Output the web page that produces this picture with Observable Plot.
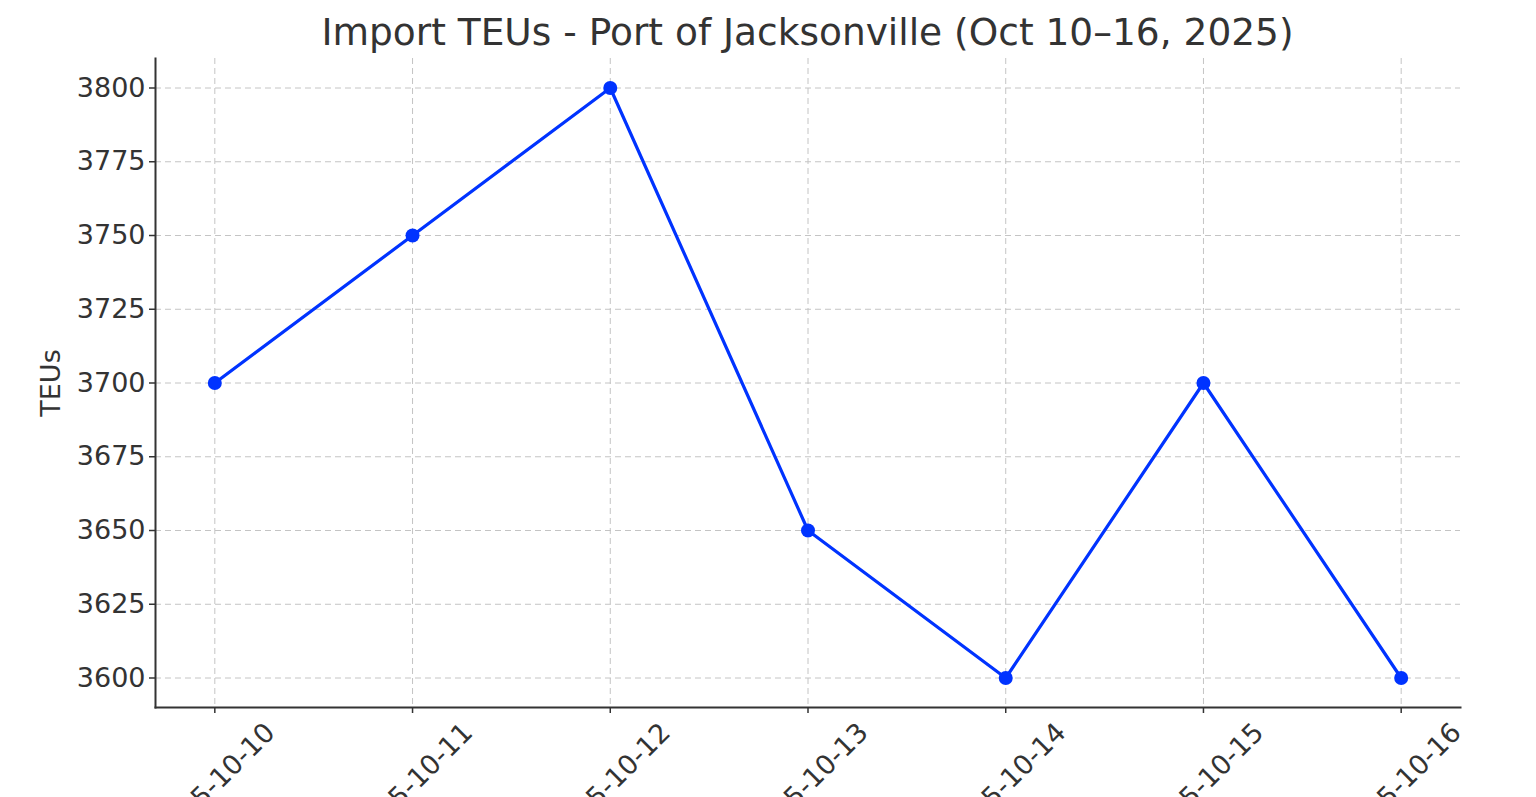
<!DOCTYPE html>
<html><head><meta charset="utf-8">
<script src="https://cdn.jsdelivr.net/npm/d3@7"></script>
<script src="https://cdn.jsdelivr.net/npm/@observablehq/plot@0.6"></script>
<style>
body{margin:0;background:#fff;overflow:hidden;font-family:"DejaVu Sans",sans-serif;}
#title{box-sizing:border-box;height:50px;padding-left:155px;width:1460px;text-align:center;font-size:37.5px;color:#333;line-height:64px;white-space:nowrap;}
</style></head><body>
<div id="title">Import TEUs - Port of Jacksonville (Oct 10–16, 2025)</div>
<div id="chart"></div>
<script>
const dates = ["2025-10-10","2025-10-11","2025-10-12","2025-10-13","2025-10-14","2025-10-15","2025-10-16"];
const teus = [3700, 3750, 3800, 3650, 3600, 3700, 3600];
const yTicks = [3600, 3625, 3650, 3675, 3700, 3725, 3750, 3775, 3800];
const yLabel = "TEUs";

const data = dates.map((d, i) => ({date: d, teus: teus[i]}));
const ink = "#333";
const blue = "#0033ff";

const chart = Plot.plot({
  width: 1536,
  height: 747,
  marginTop: 8,
  marginLeft: 155,
  marginRight: 76,
  marginBottom: 90,
  style: {fontFamily: "DejaVu Sans, sans-serif", color: ink, background: "#fff"},
  x: {type: "point", domain: dates, padding: 0.3, round: false},
  y: {domain: [3590, 3810]},
  marks: [
    Plot.gridY(yTicks, {stroke: "#c4c4c4", strokeOpacity: 1, strokeDasharray: "6,4"}),
    Plot.gridX(dates, {stroke: "#c4c4c4", strokeOpacity: 1, strokeDasharray: "6,4"}),
    Plot.frame({anchor: "left", stroke: ink, strokeWidth: 2}),
    Plot.frame({anchor: "bottom", stroke: ink, strokeWidth: 2}),
    Plot.axisY({ticks: yTicks, tickFormat: d3.format("d"), tickSize: 6, tickPadding: 4, fontSize: 27, label: yLabel, labelAnchor: "center", labelArrow: "none", labelOffset: 115, stroke: ink, strokeWidth: 1.5}),
    Plot.axisX({tickSize: 6, tickRotate: -45, textAnchor: "middle", lineAnchor: "middle", tickPadding: 70, fontSize: 27, label: null, stroke: ink, strokeWidth: 1.5}),
    Plot.line(data, {x: "date", y: "teus", stroke: blue, strokeWidth: 3.2}),
    Plot.dot(data, {x: "date", y: "teus", fill: blue, r: 7})
  ]
});
document.getElementById("chart").append(chart);
</script>
</body></html>
